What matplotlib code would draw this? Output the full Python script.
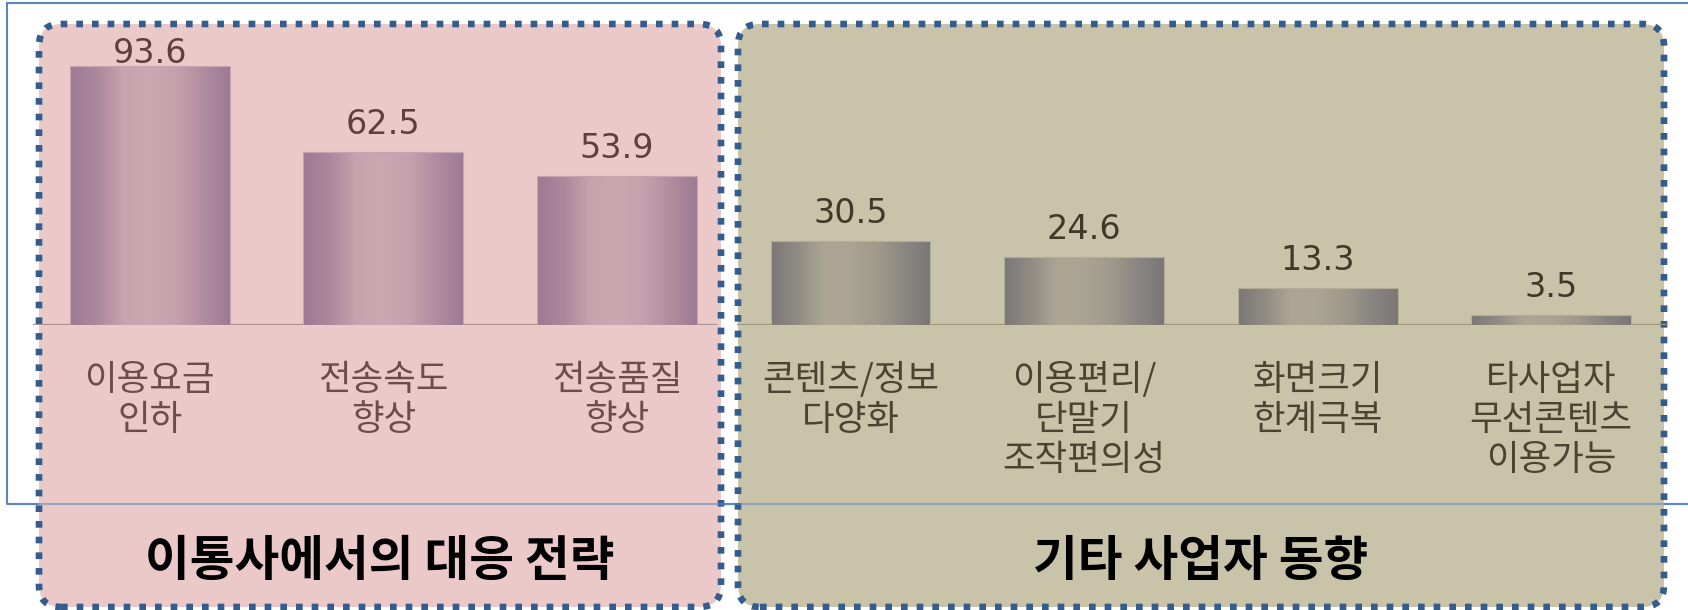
import numpy as np
import matplotlib.pyplot as plt
from matplotlib.patches import FancyBboxPatch, Rectangle
from matplotlib.colors import LinearSegmentedColormap
from matplotlib.transforms import IdentityTransform

plt.rcParams['font.family'] = ['Noto Sans CJK KR', 'DejaVu Sans']

# data
categories = ['이용요금\n인하', '전송속도\n향상', '전송품질\n향상',
              '콘텐츠/정보\n다양화', '이용편리/\n단말기\n조작편의성',
              '화면크기\n한계극복', '타사업자\n무선콘텐츠\n이용가능']
values = [93.6, 62.5, 53.9, 30.5, 24.6, 13.3, 3.5]
groups = ['이통사에서의 대응 전략', '기타 사업자 동향']
group_sizes = [3, 4]

# per-group styling
panel_colors = ['#ecc9c9', '#c9c3aa']
baseline_colors = ['#ab9191', '#9c967a']
value_colors = ['#5e3f40', '#3e3a27']
label_colors = ['#6e4b4c', '#4a4531']
bar_edges = ['#c9a3b0', '#b3ad98']
bar_cmaps = [
    LinearSegmentedColormap.from_list('pink', ['#9d7a93', '#ab889b', '#c7a3ae', '#caa7b1',
                                               '#c5a1ad', '#b18da0', '#9d7a93']),
    LinearSegmentedColormap.from_list('khaki', ['#7b7777', '#908c84', '#aca693', '#aaa492',
                                                '#a09a8b', '#8a8682', '#7b7777']),
]

W, H = 1688, 610
px_per_unit = 2.767
fig = plt.figure(figsize=(W / 100, H / 100), dpi=100)
fig.patch.set_facecolor('white')
ax = fig.add_axes([33 / W, 285 / H, 1635 / W, 301 / H])
ident = IdentityTransform()

# outer thin frame
ax.add_patch(Rectangle((7, H - 504), W, 501, fill=False, ec='#5b87c0', lw=1.5,
                       transform=ident, clip_on=False, zorder=0))

# rounded dotted panels
panel_px = [(39, 721), (738, 1664)]
for (x0, x1), fc in zip(panel_px, panel_colors):
    ax.add_patch(FancyBboxPatch((x0, 3), x1 - x0, 583,
                                boxstyle='round,pad=0,rounding_size=22',
                                fc=fc, ec='#345d8e', lw=4.8, linestyle=(0, (1, 1.35)),
                                transform=ident, clip_on=False, zorder=1))
ax.plot([7, W], [H - 504, H - 504], color='#5b87c0', lw=1.5, alpha=0.55,
        transform=ident, clip_on=False, zorder=1.5)

x = np.arange(len(values))
gidx = np.repeat(np.arange(len(groups)), group_sizes)

# baselines
ax.axhline(0, 0, 0.418, color=baseline_colors[0], lw=1.6, zorder=2)
ax.axhline(0, 0.431, 1.0, color=baseline_colors[1], lw=1.6, zorder=2)

bars = ax.bar(x, values, width=0.685, color='none', zorder=3)
grad = np.linspace(0, 1, 256).reshape(1, -1)
for bar, g in zip(bars, gidx):
    bar.set_edgecolor(bar_edges[g])
    bar.set_linewidth(0.8)
    x0 = bar.get_x()
    im = ax.imshow(grad, cmap=bar_cmaps[g], aspect='auto', interpolation='bicubic',
                   extent=(x0, x0 + bar.get_width(), 0, bar.get_height()), zorder=2.5)
    im.set_clip_path(bar)

# value labels (kept inside the panel)
for xi, v, g in zip(x, values, gidx):
    off = min(18, 262 - v * px_per_unit)
    ax.annotate(f'{v:.1f}', (xi, v), xytext=(0, off), textcoords='offset pixels',
                ha='center', va='baseline', fontsize=24, color=value_colors[g],
                family='DejaVu Sans')

# category labels
for xi, cat, g in zip(x, categories, gidx):
    ax.annotate(cat, (xi, 0), xytext=(0, -37), textcoords='offset pixels',
                ha='center', va='top', fontsize=25.5, color=label_colors[g],
                fontweight='medium', linespacing=1.15)

# group titles
for (x0, x1), name in zip(panel_px, groups):
    ax.text((x0 + x1) / 2, H - 561, name, transform=ident, ha='center', va='center',
            fontsize=35, fontweight='heavy', color='black')

ax.set_xlim(-0.5, 6.5)
ax.set_ylim(0, 301 / px_per_unit)
ax.axis('off')

fig.savefig('out.png', dpi=100)
